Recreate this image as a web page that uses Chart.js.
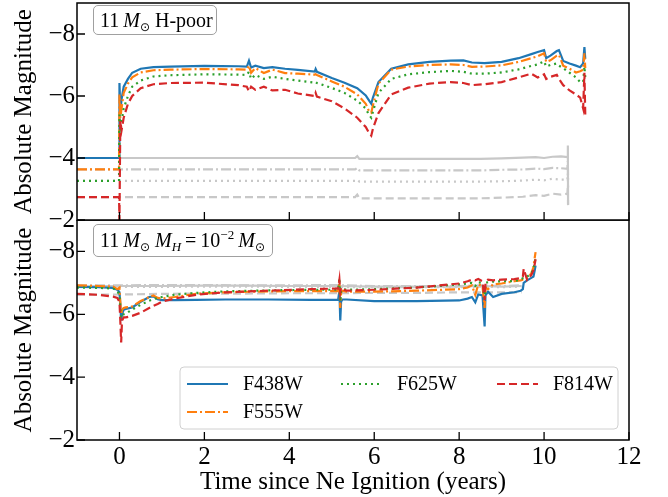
<!DOCTYPE html>
<html><head><meta charset="utf-8">
<script src="https://cdn.jsdelivr.net/npm/chart.js@4/dist/chart.umd.min.js"></script>
<style>
html,body{margin:0;padding:0;background:#fff;}
#wrap{position:relative;width:668px;height:497px;overflow:hidden;font-family:'Liberation Serif','Times New Roman',serif;}
canvas{position:absolute;left:0;}
#cTop{top:0}
#cBot{top:220px}
.ann{position:absolute;box-sizing:border-box;border:1px solid #a0a0a0;border-radius:5px;background:rgba(255,255,255,0.85);font-size:20px;line-height:28px;padding-left:6px;white-space:nowrap;color:#000}
.ann sub{font-size:13px;vertical-align:-4px;line-height:0}
.ann sup{font-size:13px;vertical-align:8px;line-height:0}
.ann .o{font-family:'DejaVu Sans',sans-serif;font-size:12px}
</style></head>
<body><div id="wrap">
<canvas id="cBot" width="668" height="277"></canvas>
<canvas id="cTop" width="668" height="240"></canvas>
<div class="ann" style="left:93px;top:5px;width:124px;height:30px">11&#8201;<i>M</i><sub class="o">⊙</sub> H-poor</div>
<div class="ann" style="left:93px;top:224px;width:180px;height:33px;line-height:31px">11&#8201;<i>M</i><sub class="o">⊙</sub> <i>M</i><sub><i>H</i></sub>&#8201;=&#8201;10<sup>−2</sup>&#8201;<i>M</i><sub class="o">⊙</sub></div>
</div>
<script>
const FONT = "'Liberation Serif', 'Times New Roman', serif";
const filters = ['F438W', 'F555W', 'F625W', 'F814W'];
const colors = ['#1f77b4', '#ff7f0e', '#2ca02c', '#d62728'];
const dashes = [[], [10, 3, 2, 3], [2, 4], [8, 4]];
const grayColor = '#c8c8c8';
const xTicks = [0, 2, 4, 6, 8, 10, 12];
const yTicks = [-8, -6, -4, -2];

// ---- top panel: 11 Msun H-poor ----
const topTime = [-1, -0.01, 0, 0.02, 0.05, 0.1, 0.2, 0.3, 0.5, 0.8, 1.2, 2.0, 2.8, 3.0, 3.05, 3.1, 3.2, 3.4, 3.6, 3.9, 4.2, 4.6, 4.62, 4.65, 5.0, 5.3, 5.6, 5.8, 5.88, 5.93, 5.97, 6.1, 6.4, 6.8, 7.3, 7.8, 8.1, 8.3, 8.6, 9.0, 9.4, 9.7, 9.85, 10.0, 10.05, 10.15, 10.3, 10.35, 10.45, 10.6, 10.75, 10.85, 10.92, 10.95, 10.97];
const topF438W = [-4.0, -4.0, -6.42, -5.5, -5.9, -6.3, -6.55, -6.75, -6.88, -6.93, -6.95, -6.97, -6.96, -6.95, -7.14, -6.92, -6.98, -6.9, -6.93, -6.88, -6.84, -6.79, -6.87, -6.78, -6.58, -6.43, -6.25, -6.02, -5.85, -5.75, -5.95, -6.45, -6.88, -7.02, -7.1, -7.14, -7.15, -7.08, -7.06, -7.1, -7.22, -7.35, -7.42, -7.48, -7.22, -7.3, -7.45, -7.48, -7.13, -7.05, -6.98, -6.93, -7.05, -7.58, -7.2];
const topF555W = [-3.63, -3.63, -6.05, -5.3, -5.6, -6.1, -6.4, -6.6, -6.76, -6.83, -6.85, -6.87, -6.86, -6.85, -6.98, -6.75, -6.9, -6.74, -6.85, -6.74, -6.72, -6.69, -6.7, -6.68, -6.47, -6.3, -6.05, -5.75, -5.5, -5.46, -5.7, -6.4, -6.85, -6.95, -7.0, -7.02, -7.0, -6.94, -6.95, -6.99, -7.1, -7.22, -7.28, -7.38, -7.1, -7.15, -7.3, -7.33, -6.98, -6.88, -6.76, -6.8, -6.85, -7.38, -6.9];
const topF625W = [-3.26, -3.26, -5.4, -5.0, -5.2, -5.6, -6.0, -6.3, -6.5, -6.63, -6.67, -6.7, -6.69, -6.68, -6.78, -6.55, -6.68, -6.55, -6.62, -6.55, -6.5, -6.43, -6.45, -6.42, -6.26, -6.1, -5.85, -5.6, -5.38, -5.3, -5.5, -6.1, -6.55, -6.7, -6.77, -6.81, -6.78, -6.72, -6.72, -6.76, -6.86, -6.97, -7.02, -7.12, -6.95, -7.0, -7.05, -6.98, -6.9, -6.75, -6.6, -6.45, -6.45, -6.95, -6.6];
const topF814W = [-2.74, -2.74, -2.0, -5.2, -4.9, -5.3, -5.75, -6.0, -6.25, -6.38, -6.42, -6.43, -6.35, -6.3, -6.15, -6.3, -6.2, -6.3, -6.18, -6.2, -6.08, -6.0, -6.1, -5.98, -5.83, -5.6, -5.3, -5.0, -4.8, -4.72, -4.95, -5.45, -6.05, -6.27, -6.4, -6.45, -6.42, -6.35, -6.38, -6.45, -6.6, -6.72, -6.6, -6.7, -6.55, -6.62, -6.68, -6.55, -6.35, -6.18, -6.05, -5.95, -5.6, -6.75, -5.4];
const topGrayTime = [-1, 5.55, 5.6, 5.65, 8.5, 9.0, 9.5, 9.8, 10.0, 10.2, 10.4, 10.55, 10.56, 10.565];
const topGrayF438W = [-4.0, -4.0, -4.06, -3.97, -3.97, -3.99, -4.01, -4.03, -4.0, -4.04, -4.05, -4.03, -4.4, -2.5];
const topGrayF555W = [-3.63, -3.63, -3.68, -3.6, -3.6, -3.62, -3.63, -3.66, -3.64, -3.68, -3.67, -3.65, -3.9, -3.3];
const topGrayF625W = [-3.26, -3.26, -3.3, -3.24, -3.24, -3.25, -3.27, -3.3, -3.28, -3.33, -3.3, -3.3, -3.5, -3.0];
const topGrayF814W = [-2.74, -2.74, -2.82, -2.7, -2.7, -2.72, -2.75, -2.8, -2.78, -2.85, -2.82, -2.85, -3.1, -2.48];

// ---- bottom panel: 11 Msun, M_H = 1e-2 Msun ----
const botTime = [-1, -0.5, -0.15, -0.05, 0.0, 0.02, 0.04, 0.06, 0.1, 0.15, 0.3, 0.5, 0.7, 0.8, 0.9, 1.0, 1.3, 1.8, 2.5, 3.5, 4.5, 5.15, 5.18, 5.2, 5.22, 5.25, 5.35, 6.0, 7.0, 8.0, 8.2, 8.3, 8.38, 8.45, 8.55, 8.6, 8.62, 8.68, 8.8, 9.0, 9.3, 9.45, 9.5, 9.52, 9.6, 9.7, 9.75, 9.78, 9.8];
const botF438W = [-6.87, -6.86, -6.84, -6.78, -6.7, -6.3, -5.8, -6.0, -6.15, -6.17, -6.22, -6.4, -6.55, -6.57, -6.48, -6.45, -6.45, -6.46, -6.47, -6.47, -6.46, -6.46, -6.75, -5.8, -6.4, -6.47, -6.47, -6.42, -6.42, -6.44, -6.5, -6.55, -6.38, -6.63, -6.6, -5.61, -6.6, -6.72, -6.55, -6.65, -6.7, -6.75, -6.8, -7.0, -7.08, -7.16, -7.2, -7.4, -7.55];
const botF555W = [-6.92, -6.9, -6.88, -6.8, -6.85, -6.4, -6.0, -6.15, -6.2, -6.22, -6.25, -6.42, -6.55, -6.6, -6.52, -6.5, -6.55, -6.65, -6.7, -6.73, -6.74, -6.74, -7.0, -6.2, -6.7, -6.75, -6.72, -6.72, -6.75, -6.8, -6.85, -6.92, -6.62, -6.95, -6.9, -6.2, -6.85, -6.8, -6.95, -6.98, -7.05, -7.08, -7.1, -7.1, -7.15, -7.3, -7.5, -7.8, -7.98];
const botF625W = [-6.85, -6.84, -6.82, -6.75, -6.6, -6.2, -5.9, -6.0, -6.0, -6.02, -6.15, -6.3, -6.43, -6.48, -6.52, -6.55, -6.62, -6.68, -6.73, -6.76, -6.78, -6.78, -7.15, -6.4, -6.75, -6.8, -6.78, -6.8, -6.85, -6.95, -6.98, -7.0, -6.9, -7.02, -7.0, -6.5, -7.0, -7.02, -7.04, -7.05, -7.06, -7.1, -7.15, -7.16, -7.2, -7.3, -7.45, -7.65, -7.85];
const botF814W = [-6.65, -6.62, -6.56, -6.52, -6.4, -5.8, -5.1, -5.8, -5.9, -5.9, -5.95, -6.05, -6.2, -6.27, -6.33, -6.4, -6.5, -6.62, -6.7, -6.75, -6.8, -6.82, -7.1, -6.7, -6.85, -6.8, -6.75, -6.78, -6.85, -6.98, -7.05, -7.1, -7.08, -7.12, -7.05, -6.45, -7.0, -7.1, -7.08, -7.1, -7.12, -7.15, -7.2, -7.45, -7.1, -7.25, -7.4, -7.6, -7.75];
const botGrayTime = [-1, 0, 1, 2, 3, 4, 5, 6, 7, 8, 8.5, 9, 9.47];
const botGrayF438W = [-6.9, -6.9, -6.9, -6.91, -6.91, -6.9, -6.9, -6.88, -6.88, -6.88, -6.9, -6.88, -6.9];
const botGrayF555W = [-6.92, -6.92, -6.93, -6.93, -6.92, -6.92, -6.93, -6.9, -6.9, -6.9, -6.92, -6.9, -6.92];
const botGrayF625W = [-6.87, -6.87, -6.87, -6.88, -6.88, -6.87, -6.87, -6.86, -6.86, -6.86, -6.88, -6.86, -6.88];
const botGrayF814W = [-6.62, -6.63, -6.65, -6.66, -6.66, -6.67, -6.67, -6.68, -6.68, -6.7, -6.7, -6.7, -6.7];

function pts(t, v) { return t.map((x, i) => ({x: x, y: v[i]})); }
function buildDatasets(time, series, grayTime, grays) {
  const ds = [];
  series.forEach((v, i) => ds.push({
    label: filters[i], data: pts(time, v), borderColor: colors[i], borderDash: dashes[i],
    borderWidth: 2.2, pointRadius: 0, tension: 0, fill: false, order: 3 - i
  }));
  grays.forEach((v, i) => ds.push({
    label: filters[i] + ' (ref)', data: pts(grayTime, v), borderColor: grayColor, borderDash: dashes[i],
    borderWidth: 2.2, pointRadius: 0, tension: 0, fill: false, order: 10 + i
  }));
  return ds;
}
const fmt = v => (v < 0 ? '\u2212' + Math.abs(v) : String(v));
function noPad(s) { s.paddingTop = 0; s.paddingBottom = 0; s.paddingLeft = 0; s.paddingRight = 0; }

const framePlugin = {
  id: 'frame',
  afterDraw(chart) {
    const {ctx, chartArea: a, scales} = chart;
    ctx.save();
    ctx.strokeStyle = '#000';
    ctx.lineWidth = 1.3;
    ctx.setLineDash([]);
    ctx.beginPath();
    xTicks.forEach(v => { const px = scales.x.getPixelForValue(v); ctx.moveTo(px, a.bottom); ctx.lineTo(px, a.bottom - 8); });
    yTicks.forEach(v => { const py = scales.y.getPixelForValue(v); ctx.moveTo(a.left, py); ctx.lineTo(a.left + 8, py); });
    ctx.stroke();
    ctx.lineWidth = 1.5;
    ctx.strokeRect(a.left, a.top, a.right - a.left, a.bottom - a.top);
    ctx.restore();
  }
};

const legendPlugin = {
  id: 'boxLegend',
  afterDraw(chart, args, o) {
    if (!o.show) return;
    const ctx = chart.ctx;
    ctx.save();
    const bx = 180, by = 147, bw = 438, bh = 62, r = 4;
    ctx.beginPath();
    ctx.moveTo(bx + r, by); ctx.lineTo(bx + bw - r, by); ctx.quadraticCurveTo(bx + bw, by, bx + bw, by + r);
    ctx.lineTo(bx + bw, by + bh - r); ctx.quadraticCurveTo(bx + bw, by + bh, bx + bw - r, by + bh);
    ctx.lineTo(bx + r, by + bh); ctx.quadraticCurveTo(bx, by + bh, bx, by + bh - r);
    ctx.lineTo(bx, by + r); ctx.quadraticCurveTo(bx, by, bx + r, by);
    ctx.closePath();
    ctx.fillStyle = 'rgba(255,255,255,0.8)';
    ctx.fill();
    ctx.strokeStyle = '#d0d0d0';
    ctx.lineWidth = 1;
    ctx.stroke();
    const cols = [187, 341, 497], rows = [164, 192];
    const place = [[0, 0], [0, 1], [1, 0], [2, 0]];
    ctx.font = '20px ' + FONT;
    ctx.textBaseline = 'middle';
    ctx.textAlign = 'left';
    filters.forEach((f, i) => {
      const x = cols[place[i][0]], y = rows[place[i][1]];
      ctx.beginPath();
      ctx.setLineDash(dashes[i]);
      ctx.strokeStyle = colors[i];
      ctx.lineWidth = 2.2;
      ctx.moveTo(x, y); ctx.lineTo(x + 41, y);
      ctx.stroke();
      ctx.setLineDash([]);
      ctx.fillStyle = '#000';
      ctx.fillText(f, x + 56, y + 1);
    });
    ctx.restore();
  }
};

function makeOptions(isBottom) {
  return {
    responsive: false, animation: false, events: [],
    layout: {padding: {top: isBottom ? 0 : 3, right: 39, bottom: isBottom ? 0 : 20, left: 0}},
    plugins: {legend: {display: false}, tooltip: {enabled: false}, boxLegend: {show: isBottom}},
    scales: {
      x: {
        type: 'linear', min: -1, max: 12, display: isBottom,
        afterBuildTicks: s => { s.ticks = xTicks.map(v => ({value: v})); },
        afterFit: s => { if (isBottom) s.height = 57; noPad(s); },
        grid: {display: false, drawTicks: false}, border: {display: false},
        ticks: {font: {family: FONT, size: 25, lineHeight: 1.2}, color: '#000', padding: 2, maxRotation: 0, callback: v => fmt(v)},
        title: {display: true, text: 'Time since Ne Ignition (years)', color: '#000',
                font: {family: FONT, size: 25, lineHeight: 1.2}, padding: {top: 0, bottom: 0}}
      },
      y: {
        type: 'linear', min: -9, max: -2, reverse: true,
        afterBuildTicks: s => { s.ticks = yTicks.map(v => ({value: v})); },
        afterFit: s => { s.width = 77; noPad(s); },
        grid: {display: false, drawTicks: false}, border: {display: false},
        ticks: {font: {family: FONT, size: 25}, color: '#000', padding: 2, callback: v => fmt(v)},
        title: {display: true, text: 'Absolute Magnitude', color: '#000',
                font: {family: FONT, size: 25, lineHeight: 1.2}, padding: {top: 9, bottom: 0}}
      }
    }
  };
}

new Chart(document.getElementById('cTop'), {
  type: 'line',
  data: {datasets: buildDatasets(topTime, [topF438W, topF555W, topF625W, topF814W], topGrayTime,
                                 [topGrayF438W, topGrayF555W, topGrayF625W, topGrayF814W])},
  options: makeOptions(false),
  plugins: [framePlugin]
});
new Chart(document.getElementById('cBot'), {
  type: 'line',
  data: {datasets: buildDatasets(botTime, [botF438W, botF555W, botF625W, botF814W], botGrayTime,
                                 [botGrayF438W, botGrayF555W, botGrayF625W, botGrayF814W])},
  options: makeOptions(true),
  plugins: [framePlugin, legendPlugin]
});
</script>
</body></html>
